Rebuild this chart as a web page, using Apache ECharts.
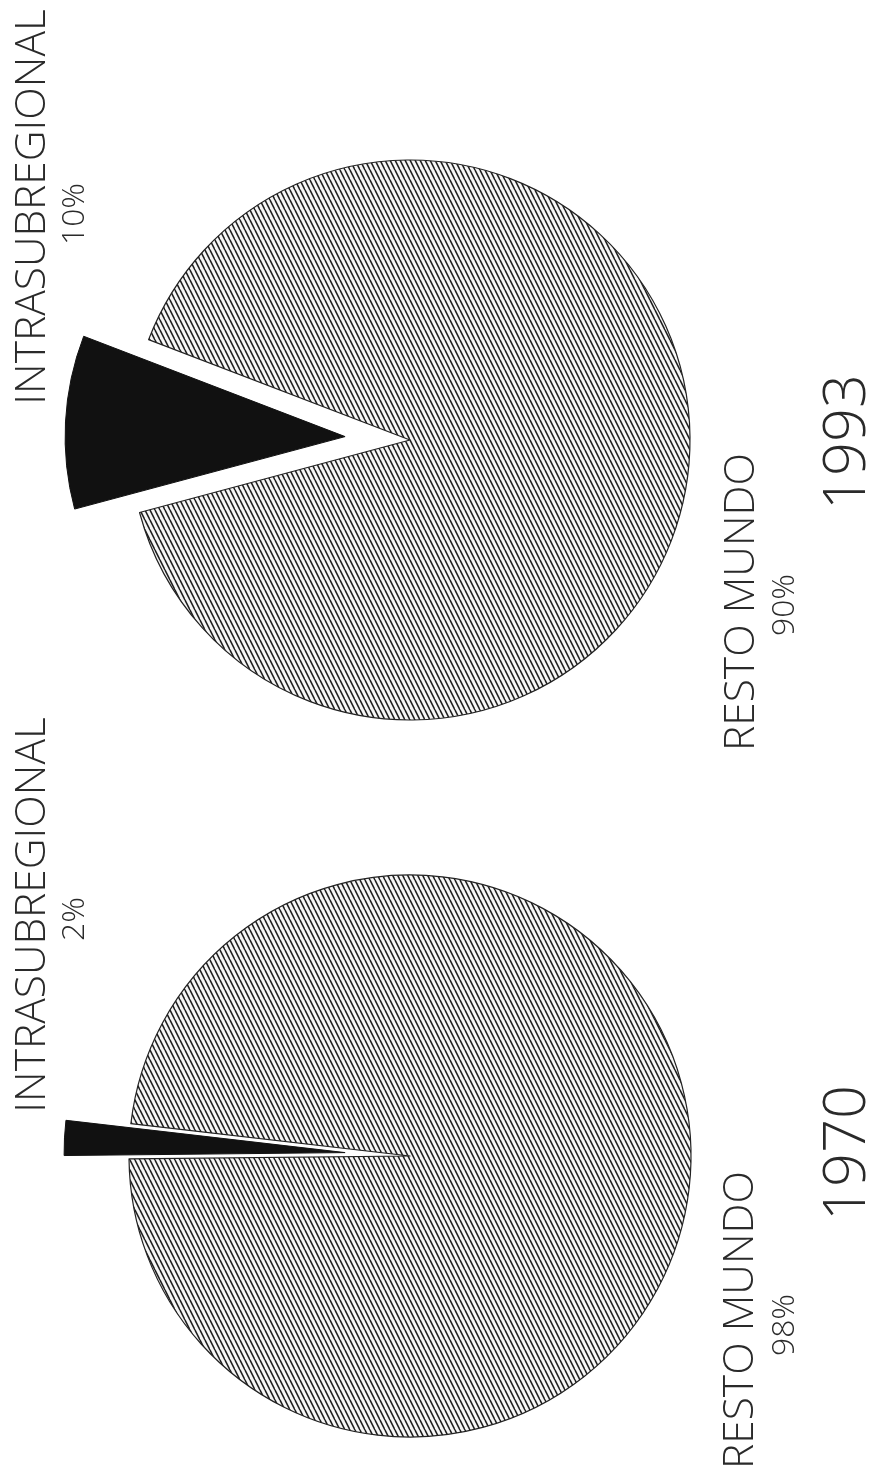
<!DOCTYPE html>
<html>
<head>
<meta charset="utf-8">
<script src="https://cdn.jsdelivr.net/npm/echarts@6/dist/echarts.min.js"></script>
<style>
html,body{margin:0;padding:0;background:#fff;}
#chart{width:875px;height:1480px;}
</style>
</head>
<body>
<div id="chart"></div>
<script>
// ---- data ----
const categories = ['INTRASUBREGIONAL', 'RESTO MUNDO'];
const years = ['1993', '1970'];
const values1993 = [10, 90];
const values1970 = [2, 98];
const seriesValues = [values1993, values1970];

// ---- hatch pattern ----
function makeHatch() {
  const c = document.createElement('canvas');
  c.width = 5; c.height = 10;
  const g = c.getContext('2d');
  g.fillStyle = '#f6f6f6';
  g.fillRect(0, 0, 5, 10);
  g.strokeStyle = '#1e1e1e';
  g.lineWidth = 1.6;
  for (let k = -1; k <= 1; k++) {
    g.beginPath();
    g.moveTo(k * 5, 0);
    g.lineTo(k * 5 + 5, 10);
    g.stroke();
  }
  return c;
}
const hatch = { image: makeHatch(), repeat: 'repeat' };

const layouts = [
  { center: [410, 440], radius: 280, startAngle: 195 },
  { center: [410, 1156], radius: 281, startAngle: 180.6 }
];

const series = seriesValues.map((vals, i) => ({
  type: 'pie',
  center: layouts[i].center,
  radius: layouts[i].radius,
  startAngle: layouts[i].startAngle,
  clockwise: true,
  selectedMode: 'single',
  selectedOffset: 65,
  silent: true,
  animation: false,
  label: { show: false },
  labelLine: { show: false },
  emphasis: { disabled: true },
  select: { itemStyle: { color: '#111', borderColor: '#111' } },
  data: vals.map((v, j) => ({
    name: categories[j],
    value: v,
    selected: j === 0,
    itemStyle: j === 0
      ? { color: '#111', borderColor: '#111', borderWidth: 1 }
      : { color: hatch, borderColor: '#222', borderWidth: 1.2 }
  }))
}));

// ---- rotated texts (font sized to fit the measured lengths) ----
const FAMILY = "'Open Sans', Roboto, 'Liberation Sans', Arial, sans-serif";
const WEIGHT = '300';
const mctx = document.createElement('canvas').getContext('2d');
function fitSize(text, targetLen) {
  mctx.font = WEIGHT + ' 100px ' + FAMILY;
  return 100 * targetLen / mctx.measureText(text).width;
}
const txt = (x, y, text, size) => ({
  type: 'text', x: x, y: y, rotation: Math.PI / 2, silent: true,
  style: {
    text: text, fill: '#2a2a2a', align: 'center', verticalAlign: 'middle',
    font: WEIGHT + ' ' + size.toFixed(1) + 'px ' + FAMILY
  }
});
const catSize = fitSize(categories[0], 395);
const pctSize = fitSize('90%', 62);
const yearSize = fitSize('1993', 136);
const textPos = [
  { top: [33, 207], topPct: [75, 214], bot: [742, 602], botPct: [785, 605], year: [848, 442] },
  { top: [33, 915], topPct: [75, 919], bot: [741, 1320], botPct: [785, 1325], year: [848, 1153] }
];
const graphic = [];
seriesValues.forEach((vals, i) => {
  const p = textPos[i];
  graphic.push(txt(p.top[0], p.top[1], categories[0], catSize));
  graphic.push(txt(p.topPct[0], p.topPct[1], vals[0] + '%', pctSize));
  graphic.push(txt(p.bot[0], p.bot[1], categories[1], catSize));
  graphic.push(txt(p.botPct[0], p.botPct[1], vals[1] + '%', pctSize));
  graphic.push(txt(p.year[0], p.year[1], years[i], yearSize));
});

const chart = echarts.init(document.getElementById('chart'), null, { renderer: 'canvas' });
chart.setOption({
  backgroundColor: '#ffffff',
  animation: false,
  series: series,
  graphic: graphic
});
</script>
</body>
</html>
